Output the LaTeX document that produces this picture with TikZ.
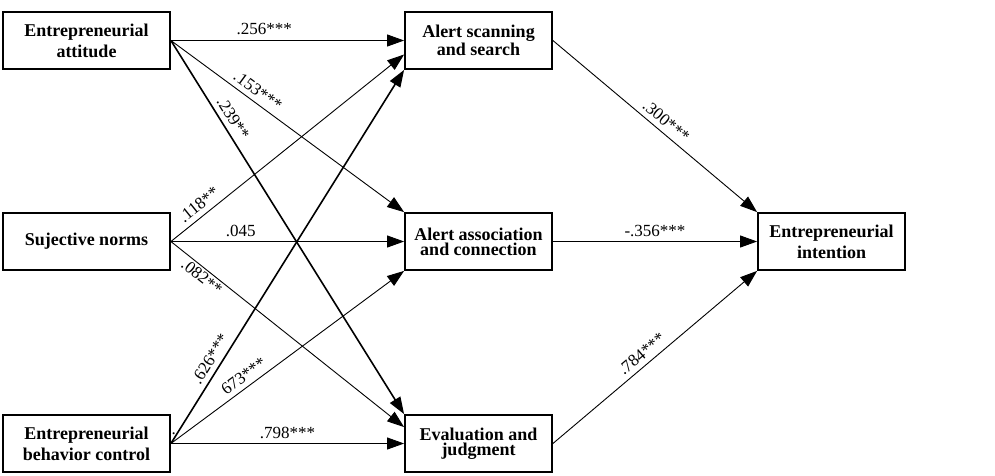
\documentclass[tikz,border=0pt]{standalone}
\usepackage{fontspec}
\setmainfont{Liberation Serif}
\usetikzlibrary{arrows.meta,calc}
\begin{document}
\begin{tikzpicture}[x=1pt,y=-1pt,
  box/.style={draw,line width=1.8pt,inner sep=0pt,align=center,
    font=\bfseries\fontsize{18}{21}\selectfont},
  lbox/.style={box,minimum width=167pt,minimum height=57pt},
  mbox/.style={box,minimum width=147pt,minimum height=57pt,
    font=\bfseries\fontsize{18}{15}\selectfont},
  conn/.style={line width=0.9pt,-{Triangle[length=17pt,width=12pt]}},
  thick conn/.style={conn,line width=1.6pt},
  coef/.style={font=\fontsize{17}{17}\selectfont,inner sep=1pt}]
\useasboundingbox (0,0) rectangle (995,475);
\node[lbox] (ea) at (86.5,40.5) {Entrepreneurial\\attitude};
\node[lbox] (sn) at (86.5,241.5) {Sujective norms};
\node[lbox] (ebc) at (86.5,443.5) {Entrepreneurial\\behavior control};
\node[mbox] (as) at (478.5,40.5) {Alert scanning\\and search};
\node[mbox] (aa) at (478.5,241.5) {Alert association\\and connection};
\node[mbox] (ej) at (478.5,443.5) {Evaluation and\\judgment};
\node[lbox,minimum width=147pt] (ei) at (831.5,241.5) {Entrepreneurial\\intention};
\coordinate (asin) at ([yshift=-14pt]as.west);
\coordinate (ejin) at ([yshift=-13pt]ej.north west);
% from attitude
\draw[conn] (ea.east) -- node[coef,pos=0.40,above=4pt] {.256***} (as.west);
\draw[conn] (ea.east) -- node[coef,pos=0.345,sloped,above=4pt] {.153***} (aa.north west);
\draw[thick conn] (ea.east) -- node[coef,pos=0.225,sloped,above=4pt] {.239**} (ej.north west);
% from norms
\draw[conn] (sn.east) -- node[coef,pos=0.15,sloped,above=4pt] {.118**} (asin);
\draw[conn] (sn.east) -- node[coef,pos=0.30,above=3pt] {.045} (aa.west);
\draw[conn] (sn.east) -- node[coef,pos=0.155,sloped,below=1pt] {.082**} (ejin);
% from behavior control
\draw[thick conn] (ebc.east) -- node[coef,pos=0.21,sloped,above=4pt] {.626***} (as.south west);
\draw[conn] (ebc.east) -- node[coef,pos=0.34,sloped,above=4pt] {673***} (aa.south west);
\draw[conn] (ebc.east) -- node[coef,pos=0.50,above=3pt] {.798***} (ej.west);
% to intention
\draw[conn] (as.east) -- node[coef,pos=0.52,sloped,above=4pt] {.300***} (ei.north west);
\draw[conn] (aa.east) -- node[coef,pos=0.50,above=3pt] {-.356***} (ei.west);
\draw[conn] (ej.east) -- node[coef,pos=0.47,sloped,above=4pt] {.784***} (ei.south west);
\node[coef,inner sep=0pt,anchor=base west] (dot) at (171.5,434) {.};
\end{tikzpicture}
\end{document}
